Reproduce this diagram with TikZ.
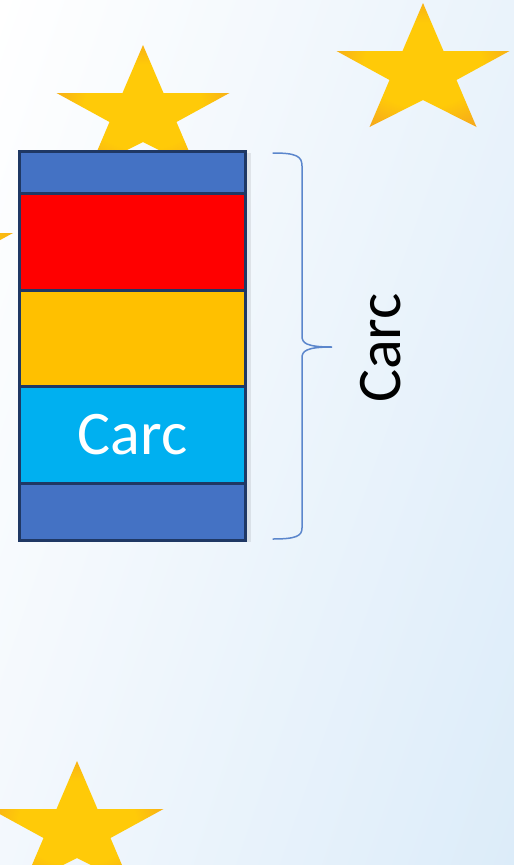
\documentclass[tikz,border=0pt]{standalone}
\usepackage{fontspec}
\setmainfont{Carlito}
\usetikzlibrary{shadings}
\definecolor{bandblue}{HTML}{4472C4}
\definecolor{bandred}{HTML}{FF0000}
\definecolor{bandgold}{HTML}{FFC000}
\definecolor{bandcyan}{HTML}{00B0F0}
\definecolor{bandedge}{HTML}{1F3864}
\definecolor{bracecol}{HTML}{5B86CC}
\definecolor{staryellow}{HTML}{FFCA08}
\definecolor{starorange}{HTML}{F4A41E}
\definecolor{bgtl}{HTML}{FFFFFF}
\definecolor{bgtr}{HTML}{EAF3FB}
\definecolor{bgbl}{HTML}{F3F8FD}
\definecolor{bgbr}{HTML}{DCECF9}
% mostly yellow, turning orange only towards the tips
\pgfdeclareradialshading{starglow}{\pgfpoint{0bp}{0bp}}{%
  color(0bp)=(staryellow); color(17bp)=(staryellow);
  color(30bp)=(starorange); color(50bp)=(starorange)}
\tikzset{
  band/.style={draw=bandedge, line width=3pt, minimum width=226pt,
    inner sep=0pt, outer sep=0pt},
  bigtext/.style={font=\fontsize{62}{62}\selectfont},
  pics/goldstar/.style={code={
    \shade[shading=starglow]
      (0,0) -- (20.5,48) -- (86.5,48) -- (33.5,77) -- (53.5,124) -- (0,97)
      -- (-53.5,124) -- (-33.5,77) -- (-86.5,48) -- (-20.5,48) -- cycle;
  }}
}
\begin{document}
\begin{tikzpicture}[x=1pt, y=-1pt]
  \useasboundingbox (0,0) rectangle (514,865);
  \clip (0,0) rectangle (514,865);
  % soft sky background
  \shade[upper left=bgtl, upper right=bgtr, lower left=bgbl, lower right=bgbr]
    (0,0) rectangle (514,865);

  % stars
  \pic at (423,3) {goldstar};
  \pic at (143,45) {goldstar};
  \pic at (-73.5,185) {goldstar};
  \pic at (77,761) {goldstar};

  % faint shadow on the right of the stack
  \fill[black, opacity=0.08] (247,153) rectangle (250.5,542);

  % layer stack
  \node[band, fill=bandblue, minimum height=41.5pt] (topband) at (132.5,172.25) {};
  \node[band, fill=bandred,  minimum height=97pt]   (redband) at (132.5,241.5) {};
  \node[band, fill=bandgold, minimum height=96pt]   (goldband) at (132.5,338) {};
  \node[band, fill=bandcyan, minimum height=97pt, text=white, bigtext]
    (cyanband) at (132.5,434.5) {Carc};
  \node[band, fill=bandblue, minimum height=57.5pt] (botband) at (132.5,511.75) {};

  % curly brace spanning the stack
  \draw[bracecol, line width=1.5pt, line cap=round]
    (273,153) .. controls (296,153) and (302,156) .. (302,166)
    -- (302,336) .. controls (302,343) and (306,347) .. (332,347)
    .. controls (306,347) and (302,351) .. (302,358)
    -- (302,528) .. controls (302,536) and (296,539) .. (273,539);
  \coordinate (bracetip) at (332,347);

  % side label
  \node[bigtext, rotate=90] (sidelabel) at (381,348) {Carc};
\end{tikzpicture}
\end{document}
